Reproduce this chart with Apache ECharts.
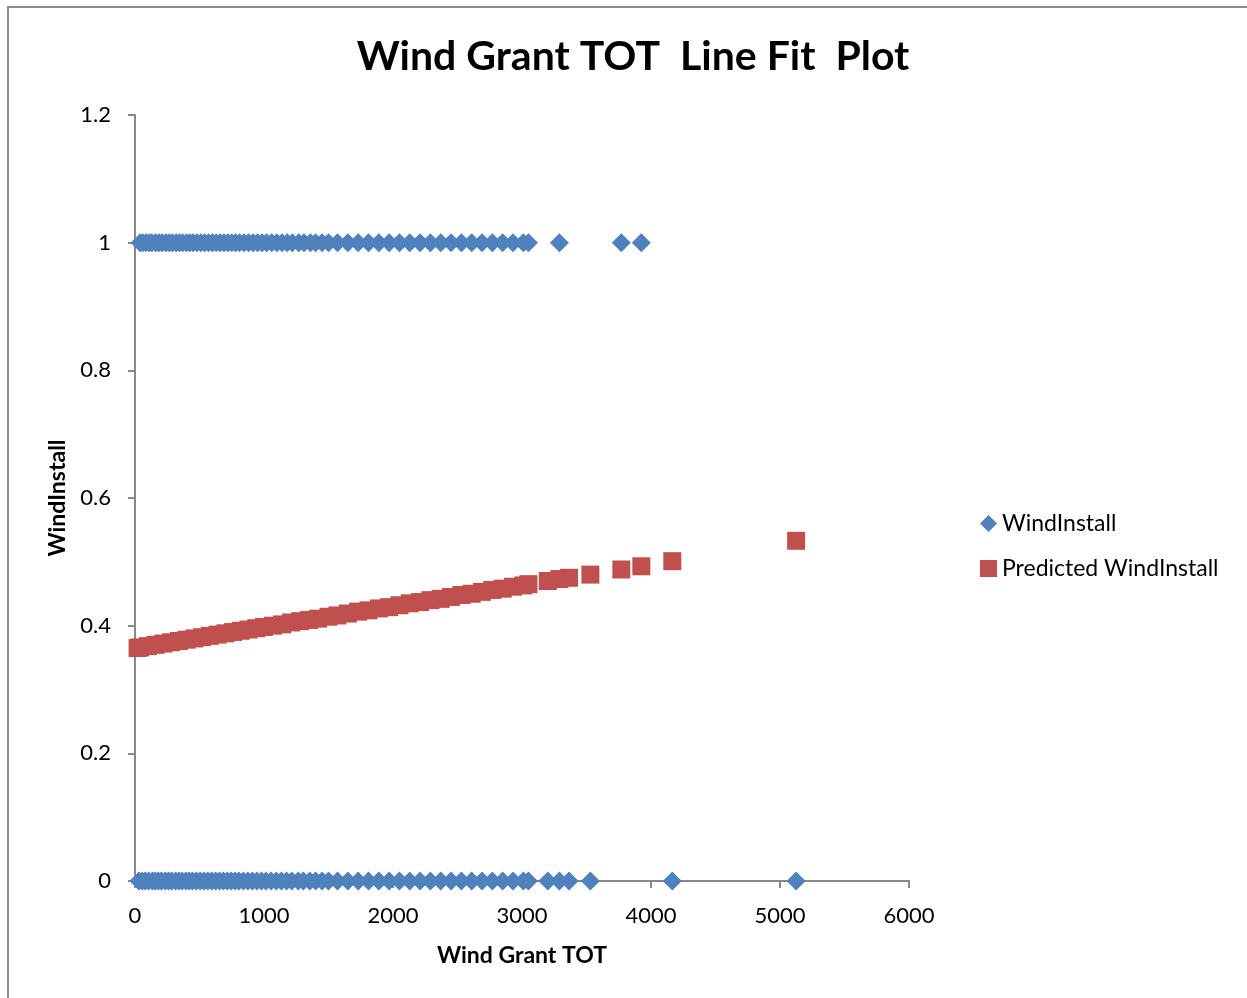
<!DOCTYPE html>
<html>
<head>
<meta charset="utf-8">
<script src="https://cdn.jsdelivr.net/npm/echarts@6/dist/echarts.min.js"></script>
<style>
  html, body { margin: 0; padding: 0; background: #fff; }
  #main { width: 1247px; height: 998px; }
</style>
</head>
<body>
<div id="main"></div>
<script>
// WindInstall = 1 observations (Wind Grant TOT)
var xOnes = [40, 60, 85, 110, 130, 160, 185, 210, 240, 265, 290, 320, 345, 370, 400, 425, 450, 480, 510, 540,
  570, 600, 630, 660, 690, 720, 750, 780, 810, 845, 880, 915, 950, 985, 1020, 1060, 1100, 1140, 1180, 1220,
  1270, 1310, 1360, 1400, 1450, 1500, 1570, 1650, 1730, 1810, 1890, 1970, 2050, 2130, 2210, 2290, 2370,
  2450, 2530, 2610, 2690, 2770, 2850, 2930, 3010, 3050, 3290, 3770, 3925];
// WindInstall = 0 observations
var xZeros = [30, 55, 80, 105, 135, 155, 180, 205, 235, 260, 285, 315, 340, 365, 395, 420, 445, 475, 505, 535,
  565, 595, 625, 655, 685, 715, 745, 775, 805, 840, 875, 910, 945, 980, 1015, 1055, 1095, 1135, 1175, 1215,
  1265, 1305, 1355, 1400, 1450, 1500, 1570, 1650, 1730, 1810, 1890, 1970, 2050, 2130, 2210, 2290, 2370,
  2450, 2530, 2610, 2690, 2770, 2850, 2930, 3010, 3050, 3200, 3290, 3365, 3530, 4165, 5125];
// Predicted WindInstall
var predX = [20, 40, 100, 160, 220, 280, 340, 400, 460, 520, 580, 640, 700, 760, 820, 880, 940, 1000, 1070,
  1140, 1210, 1280, 1350, 1420, 1500, 1570, 1650, 1730, 1810, 1890, 1970, 2050, 2130, 2210, 2290, 2370,
  2450, 2530, 2610, 2690, 2770, 2850, 2930, 3010, 3050, 3200, 3290, 3365, 3530, 3770, 3925, 4165, 5125];
var predY = [0.365, 0.366, 0.368, 0.370, 0.372, 0.374, 0.376, 0.378, 0.380, 0.382, 0.384, 0.386, 0.388,
  0.390, 0.392, 0.394, 0.396, 0.398, 0.400, 0.402, 0.405, 0.407, 0.409, 0.411, 0.414, 0.416, 0.419, 0.422,
  0.424, 0.427, 0.429, 0.432, 0.435, 0.437, 0.440, 0.442, 0.445, 0.448, 0.450, 0.453, 0.456, 0.458, 0.461,
  0.463, 0.465, 0.470, 0.473, 0.475, 0.480, 0.488, 0.493, 0.501, 0.533];

var actual = xOnes.map(function (x) { return [x, 1]; })
  .concat(xZeros.map(function (x) { return [x, 0]; }));
var predicted = predX.map(function (x, i) { return [x, predY[i]]; });

var font = 'Lato, "Open Sans", sans-serif';
var myChart = echarts.init(document.getElementById('main'));
var option = {
  animation: false,
  backgroundColor: '#fff',
  textStyle: { fontFamily: font },
  title: {
    text: 'Wind Grant TOT  Line Fit  Plot',
    left: 628,
    textAlign: 'center',
    top: 31,
    textStyle: { fontFamily: font, fontSize: 41, fontWeight: 'bold', color: '#000' }
  },
  graphic: [{
    type: 'rect',
    shape: { x: 8, y: 7, width: 1300, height: 1100 },
    style: { fill: 'none', stroke: '#8c8c8c', lineWidth: 2 },
    silent: true
  }],
  legend: {
    orient: 'vertical',
    left: 975,
    top: 507,
    itemWidth: 17,
    itemHeight: 17,
    itemGap: 22,
    textStyle: { fontFamily: font, fontSize: 23, color: '#000' },
    data: [
      { name: 'WindInstall', icon: 'diamond' },
      { name: 'Predicted WindInstall', icon: 'rect' }
    ]
  },
  grid: { left: 135, right: 338, top: 115, bottom: 117 },
  xAxis: {
    type: 'value',
    min: 0, max: 6000, interval: 1000,
    name: 'Wind Grant TOT',
    nameLocation: 'middle',
    nameGap: 63,
    nameTextStyle: { fontFamily: font, fontSize: 23, fontWeight: 'bold', color: '#000' },
    axisLine: { show: true, onZero: false, lineStyle: { color: '#888', width: 2 } },
    axisTick: { show: true, inside: false, length: 7, lineStyle: { color: '#888', width: 2 } },
    axisLabel: {
      fontFamily: font, fontSize: 22, color: '#000', margin: 24,
      formatter: function (v) { return String(v); }
    },
    splitLine: { show: false }
  },
  yAxis: {
    type: 'value',
    min: 0, max: 1.2, interval: 0.2,
    name: 'WindInstall',
    nameLocation: 'middle',
    nameGap: 66,
    nameTextStyle: { fontFamily: font, fontSize: 23, fontWeight: 'bold', color: '#000' },
    axisLine: { show: true, lineStyle: { color: '#888', width: 2 } },
    axisTick: { show: true, inside: false, length: 7, lineStyle: { color: '#888', width: 2 } },
    axisLabel: {
      fontFamily: font, fontSize: 22, color: '#000', margin: 24,
      formatter: function (v) { return String(Math.round(v * 10) / 10); }
    },
    splitLine: { show: false }
  },
  series: [{
    name: 'WindInstall',
    type: 'scatter',
    symbol: 'diamond',
    symbolSize: 19,
    itemStyle: { color: '#4F81BD', opacity: 1 },
    data: actual
  }, {
    name: 'Predicted WindInstall',
    type: 'scatter',
    symbol: 'rect',
    symbolSize: 18,
    itemStyle: { color: '#C0504D', opacity: 1 },
    data: predicted
  }]
};
myChart.setOption(option);
</script>
</body>
</html>
